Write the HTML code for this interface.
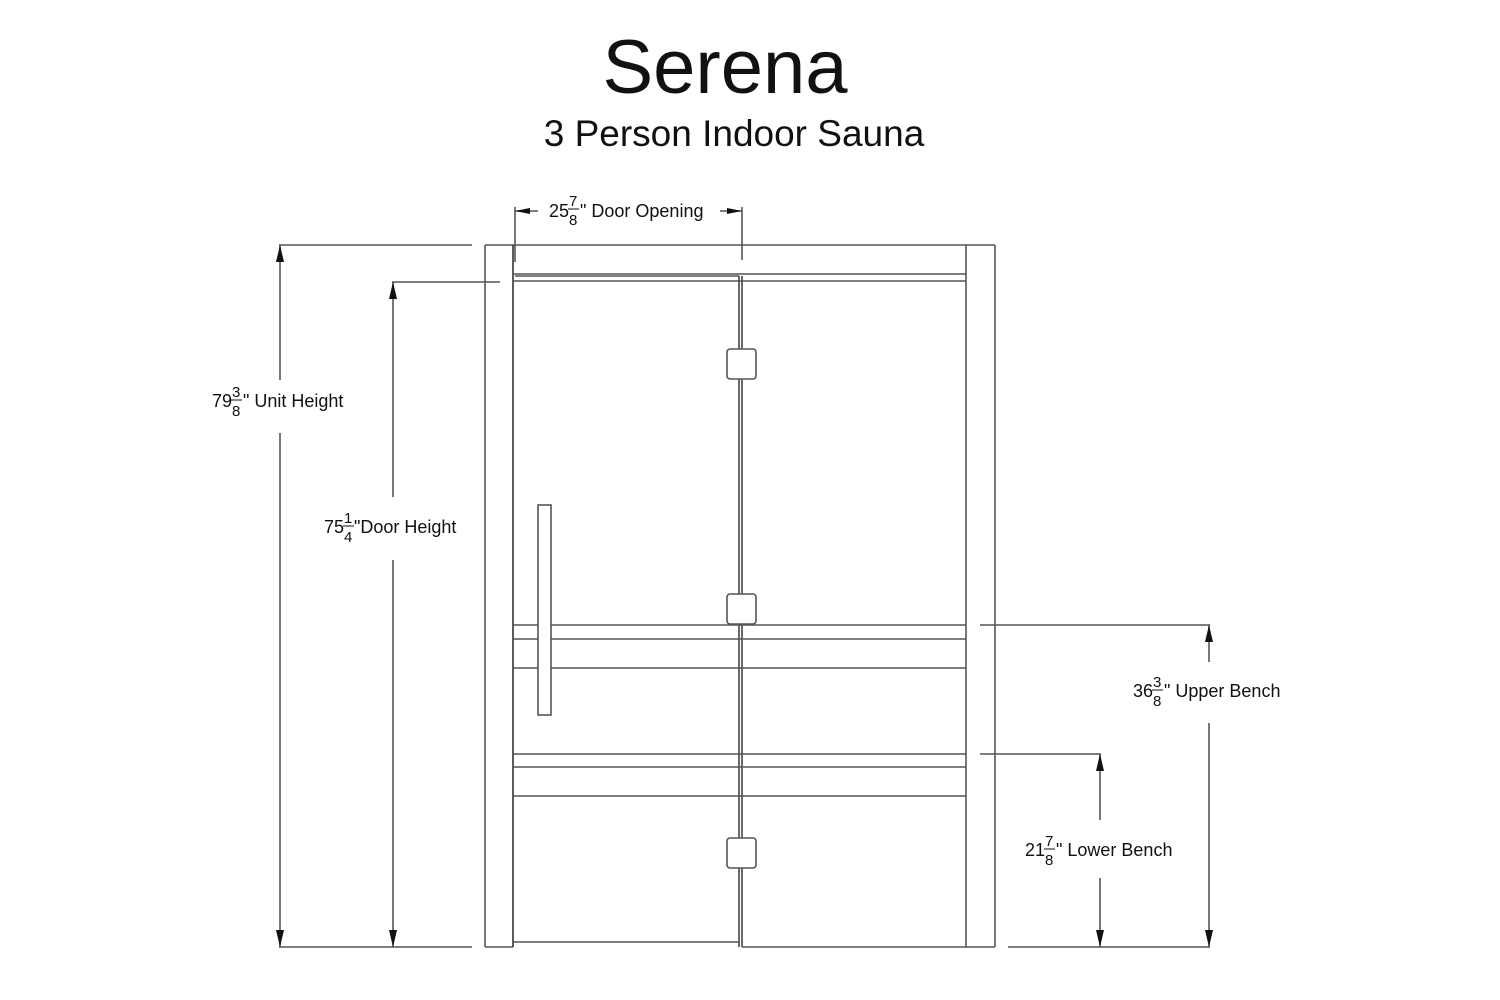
<!DOCTYPE html>
<html><head><style>html,body{margin:0;padding:0;background:#fff}svg{display:block}</style></head>
<body>
<svg width="1500" height="1000" viewBox="0 0 1500 1000" xmlns="http://www.w3.org/2000/svg" font-family="Liberation Sans, Arial, sans-serif">
<rect width="1500" height="1000" fill="#fff"/>
<text x="725" y="93" font-size="76" text-anchor="middle" fill="#111">Serena</text>
<text x="734" y="146" font-size="37" text-anchor="middle" fill="#111">3 Person Indoor Sauna</text>

<g stroke="#555" stroke-width="1.6" fill="none">
<line x1="485" y1="245" x2="995" y2="245"/>
<line x1="485" y1="245" x2="485" y2="947"/>
<line x1="995" y1="245" x2="995" y2="947"/>
<line x1="485" y1="947" x2="513" y2="947"/>
<line x1="966" y1="947" x2="995" y2="947"/>
<line x1="513" y1="245" x2="513" y2="947" stroke="#333"/>
<line x1="966" y1="245" x2="966" y2="947"/>
<line x1="513" y1="274" x2="966" y2="274"/>
<line x1="513" y1="281" x2="966" y2="281"/>
<line x1="515" y1="276" x2="739" y2="276"/>
<line x1="739" y1="276" x2="739" y2="947" stroke="#444"/>
<line x1="742" y1="276" x2="742" y2="947" stroke="#444"/>
<line x1="513" y1="942" x2="739" y2="942"/>
<line x1="742" y1="947" x2="966" y2="947"/>
<line x1="513" y1="625" x2="966" y2="625"/>
<line x1="513" y1="639" x2="966" y2="639"/>
<line x1="513" y1="668" x2="966" y2="668"/>
<line x1="513" y1="754" x2="966" y2="754"/>
<line x1="513" y1="767" x2="966" y2="767"/>
<line x1="513" y1="796" x2="966" y2="796"/>
</g>
<rect x="538" y="505" width="13" height="210" fill="#fff" stroke="#555" stroke-width="1.6"/>
<g fill="#fff" stroke="#555" stroke-width="1.6">
<rect x="727" y="349" width="29" height="30" rx="3"/>
<rect x="727" y="594" width="29" height="30" rx="3"/>
<rect x="727" y="838" width="29" height="30" rx="3"/>
</g>

<g stroke="#555" stroke-width="1.6">
<line x1="279" y1="245" x2="472" y2="245"/>
<line x1="279" y1="947" x2="472" y2="947"/>
<line x1="280" y1="245" x2="280" y2="380"/>
<line x1="280" y1="433" x2="280" y2="947"/>
<line x1="392" y1="282" x2="500" y2="282"/>
<line x1="393" y1="282" x2="393" y2="497"/>
<line x1="393" y1="560" x2="393" y2="947"/>
<line x1="980" y1="625" x2="1210" y2="625"/>
<line x1="980" y1="754" x2="1101" y2="754"/>
<line x1="1008" y1="947" x2="1210" y2="947"/>
<line x1="1209" y1="625" x2="1209" y2="662"/>
<line x1="1209" y1="723" x2="1209" y2="947"/>
<line x1="1100" y1="754" x2="1100" y2="820"/>
<line x1="1100" y1="878" x2="1100" y2="947"/>
<line x1="515" y1="207" x2="515" y2="262"/>
<line x1="742" y1="207" x2="742" y2="260"/>
<line x1="515" y1="211" x2="538" y2="211"/>
<line x1="720" y1="211" x2="742" y2="211"/>
</g>
<g fill="#111">
<polygon points="280,245 276,262 284,262"/>
<polygon points="280,947 276,930 284,930"/>
<polygon points="393,282 389,299 397,299"/>
<polygon points="393,947 389,930 397,930"/>
<polygon points="1209,625 1205,642 1213,642"/>
<polygon points="1209,947 1205,930 1213,930"/>
<polygon points="1100,754 1096,771 1104,771"/>
<polygon points="1100,947 1096,930 1104,930"/>
<polygon points="515,211 530,208 530,214"/>
<polygon points="742,211 727,208 727,214"/>
</g>

<g font-size="18" fill="#111">
<text x="549" y="217">25</text><text x="569" y="206" font-size="15">7</text><line x1="568" y1="209" x2="579" y2="209" stroke="#111"/><text x="569" y="225" font-size="15">8</text><text x="580" y="217">" Door Opening</text>

<text x="212" y="407">79</text><text x="232" y="397" font-size="15">3</text><line x1="231" y1="400" x2="242" y2="400" stroke="#111"/><text x="232" y="416" font-size="15">8</text><text x="243" y="407">" Unit Height</text>

<text x="324" y="533">75</text><text x="344" y="523" font-size="15">1</text><line x1="343" y1="526" x2="354" y2="526" stroke="#111"/><text x="344" y="542" font-size="15">4</text><text x="354" y="533">"Door Height</text>

<text x="1133" y="697">36</text><text x="1153" y="687" font-size="15">3</text><line x1="1152" y1="690" x2="1163" y2="690" stroke="#111"/><text x="1153" y="706" font-size="15">8</text><text x="1164" y="697">" Upper Bench</text>

<text x="1025" y="856">21</text><text x="1045" y="846" font-size="15">7</text><line x1="1044" y1="849" x2="1055" y2="849" stroke="#111"/><text x="1045" y="865" font-size="15">8</text><text x="1056" y="856">" Lower Bench</text>
</g>
</svg>
</body></html>
